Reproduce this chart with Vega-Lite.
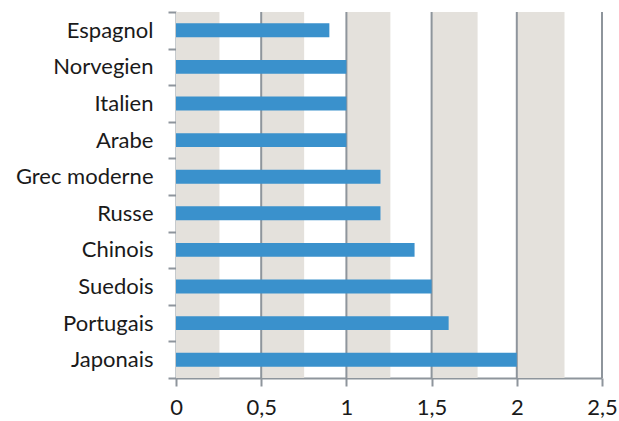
{
  "$schema": "https://vega.github.io/schema/vega-lite/v6.json",
  "width": 426,
  "height": 366,
  "autosize": "none",
  "padding": {"left": 176, "top": 12, "right": 17, "bottom": 43},
  "background": "white",
  "config": {"view": {"stroke": null}, "font": "Lato"},
  "datasets": {
    "langues": [
      {"langue": "Espagnol", "valeur": 0.9},
      {"langue": "Norvegien", "valeur": 1.0},
      {"langue": "Italien", "valeur": 1.0},
      {"langue": "Arabe", "valeur": 1.0},
      {"langue": "Grec moderne", "valeur": 1.2},
      {"langue": "Russe", "valeur": 1.2},
      {"langue": "Chinois", "valeur": 1.4},
      {"langue": "Suedois", "valeur": 1.5},
      {"langue": "Portugais", "valeur": 1.6},
      {"langue": "Japonais", "valeur": 2.0}
    ],
    "bandes": [
      {"debut": 0, "fin": 0.255},
      {"debut": 0.5, "fin": 0.752},
      {"debut": 1.0, "fin": 1.258},
      {"debut": 1.5, "fin": 1.77},
      {"debut": 2.0, "fin": 2.28}
    ],
    "grille": [
      {"v": 0.5}, {"v": 1.0}, {"v": 1.5}, {"v": 2.0}, {"v": 2.5}
    ]
  },
  "layer": [
    {
      "data": {"name": "bandes"},
      "mark": {"type": "rect", "color": "#E4E1DC"},
      "encoding": {
        "x": {"field": "debut", "type": "quantitative"},
        "x2": {"field": "fin"}
      }
    },
    {
      "data": {"name": "grille"},
      "mark": {"type": "rule", "color": "#8E959C", "strokeWidth": 2},
      "encoding": {
        "x": {"field": "v", "type": "quantitative"}
      }
    },
    {
      "data": {"name": "langues"},
      "mark": {"type": "bar", "color": "#3A91CC", "height": {"band": 0.38}},
      "encoding": {
        "y": {
          "field": "langue",
          "type": "nominal",
          "sort": null,
          "scale": {"paddingInner": 0, "paddingOuter": 0},
          "axis": {
            "title": null,
            "tickBand": "extent",
            "tickSize": 8,
            "tickColor": "#8E959C",
            "tickWidth": 2,
            "domainColor": "#8E959C",
            "domainWidth": 2,
            "labelFont": "Lato",
            "labelFontSize": 22,
            "labelColor": "#1a1a1a",
            "labelPadding": 15
          }
        },
        "x": {
          "field": "valeur",
          "type": "quantitative",
          "scale": {"domain": [0, 2.5], "nice": false},
          "axis": {
            "title": null,
            "values": [0, 0.5, 1, 1.5, 2, 2.5],
            "labelExpr": "replace(format(datum.value, '.1~f'), '.', ',')",
            "grid": false,
            "tickSize": 8,
            "tickColor": "#8E959C",
            "tickWidth": 2,
            "domainColor": "#8E959C",
            "domainWidth": 2,
            "labelFont": "Lato",
            "labelFontSize": 22,
            "labelColor": "#1a1a1a",
            "labelPadding": 11,
            "labelFlush": false
          }
        }
      }
    }
  ]
}
